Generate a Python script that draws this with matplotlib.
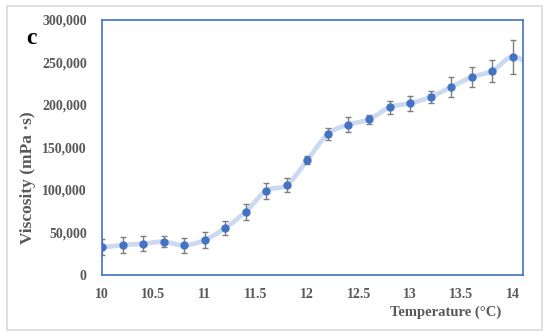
import numpy as np
import matplotlib
matplotlib.use("Agg")
import matplotlib.pyplot as plt
from matplotlib.patches import Rectangle
from matplotlib.ticker import FuncFormatter

temperature = [10.0, 10.2, 10.4, 10.6, 10.8, 11.0, 11.2, 11.4, 11.6, 11.8, 12.0,
               12.2, 12.4, 12.6, 12.8, 13.0, 13.2, 13.4, 13.6, 13.8, 14.0, 14.2]
viscosity = [32600, 35300, 36800, 39200, 34900, 41200, 55300, 74500, 99200, 105900, 135300,
             165900, 176900, 183100, 197300, 202000, 209400, 221200, 232900, 240000, 256800, 244000]
error = [9400, 9400, 9000, 6700, 9000, 9000, 7800, 9400, 9400, 8600, 4700,
         7000, 9200, 4900, 7800, 8600, 7600, 11800, 11900, 12400, 20000, 12000]
xticks = [10, 10.5, 11, 11.5, 12, 12.5, 13, 13.5, 14]
yticks = [0, 50000, 100000, 150000, 200000, 250000, 300000]

def catmull_rom(x, y, n=30):
    x = np.asarray(x, float); y = np.asarray(y, float)
    px = np.concatenate([[2 * x[0] - x[1]], x, [2 * x[-1] - x[-2]]])
    py = np.concatenate([[2 * y[0] - y[1]], y, [2 * y[-1] - y[-2]]])
    xs, ys = [], []
    t = np.linspace(0, 1, n, endpoint=False)
    for i in range(1, len(px) - 2):
        p0, p1, p2, p3 = [np.array([px[j], py[j]]) for j in (i - 1, i, i + 1, i + 2)]
        for tt in t:
            pt = 0.5 * ((2 * p1) + (-p0 + p2) * tt + (2 * p0 - 5 * p1 + 4 * p2 - p3) * tt ** 2
                        + (-p0 + 3 * p1 - 3 * p2 + p3) * tt ** 3)
            xs.append(pt[0]); ys.append(pt[1])
    xs.append(x[-1]); ys.append(y[-1])
    return np.array(xs), np.array(ys)

fig = plt.figure(figsize=(5.5, 3.36), dpi=100)
fig.patch.set_facecolor("white")
fig.patches.append(Rectangle((7 / 550, 1 - 330 / 336), 535 / 550, 324 / 336,
                             transform=fig.transFigure, fill=False,
                             edgecolor="#D9D9D9", linewidth=1.2))

ax = fig.add_axes([102 / 550, 1 - 275 / 336, 421 / 550, 255 / 336])
sx, sy = catmull_rom(temperature, viscosity)
ax.plot(sx, sy, color="#CCDAF1", linewidth=3.4, solid_capstyle="round", zorder=1)
ax.errorbar(temperature, viscosity, yerr=error, fmt="none", ecolor="#7F7F7F",
            elinewidth=1.0, capsize=2.0, capthick=1.0, zorder=2)
ax.plot(temperature, viscosity, "o", color="#4472C4", markersize=5, zorder=3)

ax.set_xlim(10, 14.1)
ax.set_ylim(0, 300000)
ax.set_xticks(xticks)
ax.set_xticklabels([f"{t:g}" for t in xticks])
ax.set_yticks(yticks)
ax.yaxis.set_major_formatter(FuncFormatter(lambda v, p: f"{int(v):,}"))
for s in ax.spines.values():
    s.set_color("#4472C4")
    s.set_linewidth(1.2)
ax.tick_params(length=0, labelsize=10, labelcolor="#595959")
ax.tick_params(axis="x", pad=9)
ax.tick_params(axis="y", pad=11)
for lab in ax.get_xticklabels() + ax.get_yticklabels():
    lab.set_fontfamily("Liberation Serif")
    lab.set_fontweight("bold")

fig.text(501 / 550, 1 - 312 / 336, "Temperature (°C)", ha="right", va="center",
         fontsize=10.5, fontweight="bold", color="#595959", family="Liberation Serif")
fig.text(28 / 550, 1 - 178 / 336, "Viscosity (mPa ·s)", ha="center", va="center",
         rotation=90, fontsize=12.5, fontweight="bold", color="#595959", family="Liberation Serif")
fig.text(31 / 550, 1 - 38 / 336, "c", ha="center", va="center", fontsize=17,
         fontweight="bold", color="black", family="Liberation Serif")

fig.savefig("out.png", dpi=100)
